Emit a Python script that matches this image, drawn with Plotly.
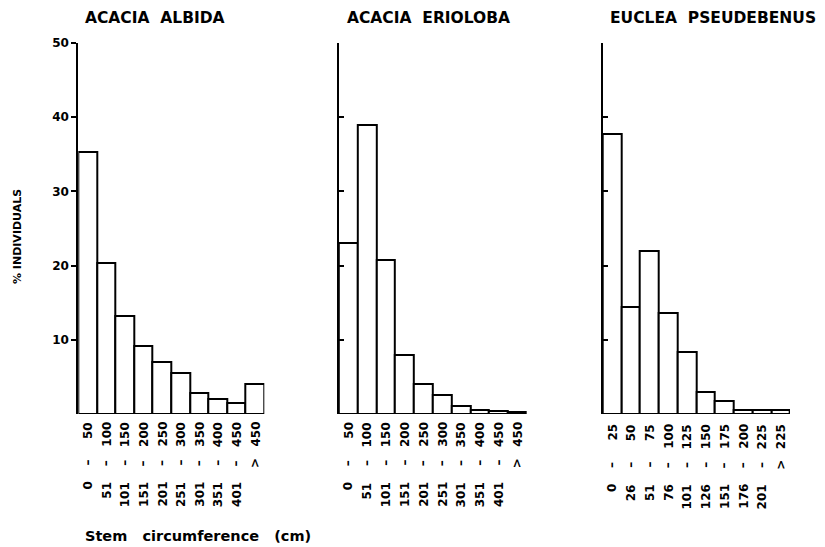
import plotly.graph_objects as go

# ---------------- data ----------------
titles = ["ACACIA  ALBIDA", "ACACIA  ERIOLOBA", "EUCLEA  PSEUDEBENUS"]

lower_a = ["0", "51", "101", "151", "201", "251", "301", "351", "401", ""]
upper_a = ["50", "100", "150", "200", "250", "300", "350", "400", "450", "450"]
sep_a = ["–"] * 9 + [">"]

lower_e = ["0", "26", "51", "76", "101", "126", "151", "176", "201", ""]
upper_e = ["25", "50", "75", "100", "125", "150", "175", "200", "225", "225"]
sep_e = ["–"] * 9 + [">"]

albida = [35.3, 20.3, 13.2, 9.1, 7.0, 5.5, 2.8, 2.0, 1.5, 4.1]
erioloba = [23.1, 39.0, 20.7, 8.0, 4.1, 2.6, 1.1, 0.6, 0.4, 0.3]
pseudebenus = [37.8, 14.4, 22.0, 13.6, 8.3, 3.0, 1.8, 0.5, 0.5, 0.5]

y_ticks = [10, 20, 30, 40, 50]
y_title = "% INDIVIDUALS"
x_title = "Stem   circumference   (cm)"

# --------------- figure ---------------
W, H = 825, 547
T, B = 43, 133
PH = H - T - B
FONT = "DejaVu Sans"


def py(p):
    """pixel row -> paper y"""
    return (H - B - p) / PH


def cats(lo, up, sp):
    return [f"{l} {s} {u}".strip() for l, u, s in zip(lo, up, sp)]


panels = [
    (albida, lower_a, upper_a, sep_a, "x", "y", (78.3, 264.3), "outside", True),
    (erioloba, lower_a, upper_a, sep_a, "x2", "y2", (338.8, 526.7), "inside", False),
    (pseudebenus, lower_e, upper_e, sep_e, "x3", "y3", (602.7, 790.0), "inside", False),
]
title_x = [83, 345, 608]

fig = go.Figure()
annotations = []
for i, (vals, lo, up, sp, xa, ya, (x0, x1), tickdir, showlab) in enumerate(panels):
    c = cats(lo, up, sp)
    fig.add_trace(go.Bar(
        x=c, y=vals, xaxis=xa, yaxis=ya,
        marker=dict(color="white", line=dict(color="black", width=2)),
        cliponaxis=False, showlegend=False, hoverinfo="skip",
    ))
    sfx = "" if i == 0 else str(i + 1)
    fig.layout["xaxis" + sfx] = dict(
        domain=[x0 / W, x1 / W], anchor=ya, type="category",
        range=[-0.5, len(c) - 0.5], showticklabels=False, ticks="",
        showline=False, showgrid=False, zeroline=False,
    )
    fig.layout["yaxis" + sfx] = dict(
        domain=[0, 1], anchor=xa, range=[0, 50],
        tickvals=y_ticks, ticks=tickdir, ticklen=5, tickwidth=1.5,
        tickcolor="black", showticklabels=showlab,
        tickfont=dict(family=FONT, size=12, color="black", weight="bold"),
        showline=True, linewidth=2, linecolor="black",
        showgrid=False, zeroline=False,
    )
    off = [0, 0, 2][i]
    for cat, l, u, s in zip(c, lo, up, sp):
        base = dict(xref=xa, yref="paper", x=cat, showarrow=False,
                    textangle=-90, xanchor="center",
                    font=dict(family=FONT, size=12, color="black", weight="bold"))
        annotations.append(dict(base, text=u, y=py(420 + off), yanchor="top"))
        annotations.append(dict(base, text=s, y=py(463 + off), yanchor="middle"))
        if l:
            annotations.append(dict(base, text=l, y=py(480 + off), yanchor="top"))
    annotations.append(dict(
        xref="paper", yref="paper", x=title_x[i] / W, y=py(18),
        xanchor="left", yanchor="middle", showarrow=False, text=titles[i],
        font=dict(family=FONT, size=15.5, color="black", weight="bold"),
    ))

annotations.append(dict(
    xref="paper", yref="paper", x=17 / W, y=py(237), textangle=-90,
    xanchor="center", yanchor="middle", showarrow=False, text=y_title,
    font=dict(family=FONT, size=11, color="black", weight="bold"),
))
annotations.append(dict(
    xref="paper", yref="paper", x=83 / W, y=py(536),
    xanchor="left", yanchor="middle", showarrow=False, text=x_title,
    font=dict(family=FONT, size=14.5, color="black", weight="bold"),
))

fig.update_layout(
    width=W, height=H,
    margin=dict(l=0, r=0, t=T, b=B),
    paper_bgcolor="white", plot_bgcolor="white",
    bargap=0, showlegend=False,
    annotations=annotations,
)

fig.write_html("out.html")
